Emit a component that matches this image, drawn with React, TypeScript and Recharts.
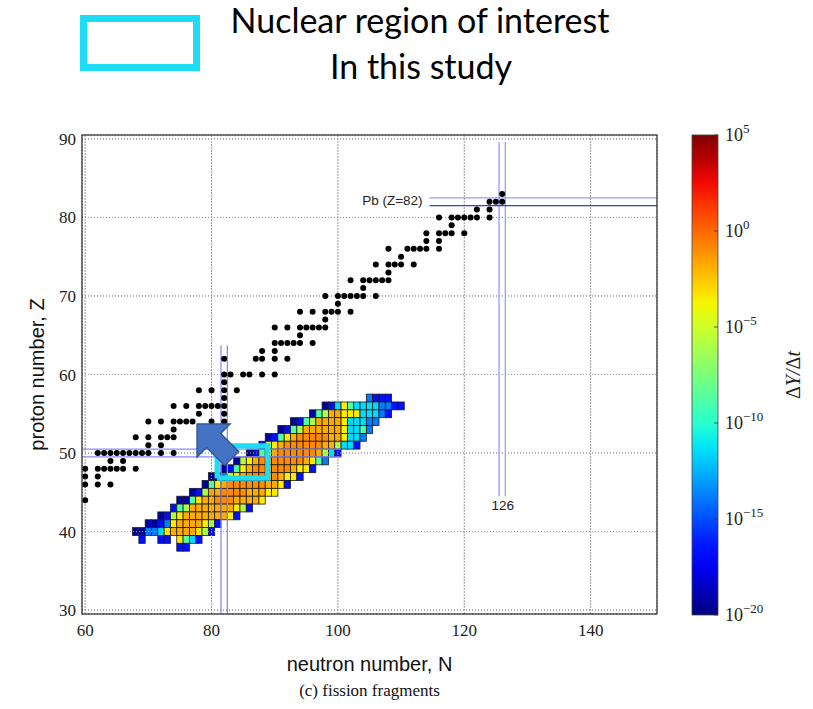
import React from "react";
import { ScatterChart, Scatter, XAxis, YAxis, CartesianGrid } from "recharts";

// axes
const nTicks = [60, 80, 100, 120, 140];
const zTicks = [30, 40, 50, 60, 70, 80, 90];
const nRange: [number, number] = [59.5, 150.5];
const zRange: [number, number] = [29.5, 90.5];

// colour bar, log10(dY/dt)
const barTicks = [5, 0, -5, -10, -15, -20];
const barRange: [number, number] = [-20, 5];

// fission fragment flows: one row per proton number, first neutron number, colour code per cell
const heatZ = [57, 56, 55, 54, 53, 52, 51, 50, 49, 48, 47, 46, 45, 44, 43, 42, 41, 40, 39, 38];
const heatFirstN = [105, 98, 96, 93, 91, 89, 88, 86, 84, 82, 80, 79, 77, 75, 74, 72, 70, 68, 69, 75];
const heatCells = [
  "LBBB",
  "DBCYACCCCLLBB",
  "DAGOOYYYCCCLB",
  "DBAGOOOOYCCCLL",
  "DBAGOOOOOOYCCAL",
  "DBAYORRRRROOYCCL",
  "BGYORRRRRROOGCCB",
  "DBAGORRRRRROGCB",
  "DGYORRRRRRROYAL",
  "DBAYORRRRRROYYB",
  "DBLGYORRRRROYYB",
  "DAYORRRRRROOYB",
  "DBGOORRRROOOYY",
  "DDAYOORRROOOOY",
  "BAGOOOOOOOYGB",
  "DBGYOOOOOOOYB",
  "DDBLYOOOOYGB",
  "DDLLCYOOOOYGB",
  "B..BB.YACB",
  "BB",
];
// log10 value for each colour code
const cellLevel: Record<string, number> = {
  D: -19.3, B: -16.5, L: -13.8, C: -11.5, A: -8.8, G: -6, Y: -3.5, O: -1.8, R: -0.9,
};

// black dots (N per proton row)
const dotZ = [44, 46, 47, 48, 49, 50, 51, 52, 53, 54, 55, 56, 57, 58, 59, 60, 62, 63, 64, 65, 66, 67, 68, 69, 70, 71, 72, 73, 74, 75, 76, 77, 78, 79, 80, 81, 82, 83];
const dotN = [
  [60], [60, 62, 64], [60, 62], [60, 62, 63, 64, 65, 66, 68], [64, 66],
  [62, 63, 64, 65, 66, 67, 68, 69, 70, 72, 74], [70, 72], [68, 70, 72, 73, 74], [74],
  [70, 72, 74, 75, 76, 77, 80, 82], [78, 82], [74, 76, 78, 79, 80, 81, 82], [82],
  [78, 80, 82, 84], [82], [82, 83, 85, 86, 88, 90], [82, 87, 88, 90, 92], [88, 90],
  [90, 91, 92, 93, 94, 96], [94], [90, 92, 94, 95, 96, 97, 98], [98],
  [94, 96, 98, 99, 100, 102], [100], [98, 100, 101, 102, 103, 104, 106], [104],
  [102, 104, 105, 106, 107, 108], [108], [106, 108, 109, 110, 112], [110],
  [108, 111, 112, 113, 114, 116], [114, 116], [114, 116, 117, 118, 120], [118],
  [116, 118, 119, 120, 121, 122, 124], [122, 124], [124, 125, 126], [126],
];

// magic number guide lines (N range, Z range, colour)
const magicLines = [
  { n: [81.5, 81.5], z: [29.5, 63.7], color: "#8a8aff" },
  { n: [82.5, 82.5], z: [29.5, 63.7], color: "#8a8aff" },
  { n: [59.5, 100.5], z: [50.5, 50.5], color: "#8a8aff" },
  { n: [59.5, 100.5], z: [49.5, 49.5], color: "#8a8aff" },
  { n: [125.5, 125.5], z: [44.5, 89.6], color: "#9a9aff" },
  { n: [126.5, 126.5], z: [44.5, 89.6], color: "#9a9aff" },
  { n: [114.5, 150.5], z: [82.5, 82.5], color: "#9a9aff" },
  { n: [114.5, 150.5], z: [81.5, 81.5], color: "#3535ff" },
];

const roiN = [80.9, 88.9];
const roiZ = [46.8, 50.9];
const arrowTip = { x: 77.7, y: 53.7 };
const pbLabel = { x: 113.4, y: 82.1, text: "Pb (Z=82)" };
const n126Label = { x: 126.1, y: 43.35, text: "126" };

const W = 813;
const H = 709;
const plot = { left: 82, top: 135, right: 657, bottom: 614 };
const cellW = (plot.right - plot.left) / (nRange[1] - nRange[0]);
const cellH = (plot.bottom - plot.top) / (zRange[1] - zRange[0]);
const bar = { left: 692, right: 718, top: 135, bottom: 615 };
const cyan = "#1ddcf6";

const jetR = [[0, 0], [0.35, 0], [0.66, 1], [0.89, 1], [1, 0.5]];
const jetG = [[0, 0], [0.125, 0], [0.375, 1], [0.64, 1], [0.91, 0], [1, 0]];
const jetB = [[0, 0.5], [0.11, 1], [0.34, 1], [0.65, 0], [1, 0]];
function seg(pts: number[][], t: number) {
  for (let i = 1; i < pts.length; i++) {
    if (t <= pts[i][0]) {
      const [t0, v0] = pts[i - 1];
      const [t1, v1] = pts[i];
      return v0 + ((t - t0) / (t1 - t0)) * (v1 - v0);
    }
  }
  return pts[pts.length - 1][1];
}
function jet(t: number) {
  const c = Math.max(0, Math.min(1, t));
  const f = (v: number) => Math.round(v * 255);
  return `rgb(${f(seg(jetR, c))},${f(seg(jetG, c))},${f(seg(jetB, c))})`;
}
const logColor = (v: number) => jet((v - barRange[0]) / (barRange[1] - barRange[0]));

const heatData = heatZ.flatMap((z, i) =>
  heatCells[i].split("").flatMap((code, k) =>
    code === "." ? [] : [{ x: heatFirstN[i] + k, y: z, v: cellLevel[code] }]
  )
);
const dotData = dotZ.flatMap((z, i) => dotN[i].map((n) => ({ x: n, y: z })));
const roiData = [
  { x: roiN[0], y: roiZ[0] }, { x: roiN[1], y: roiZ[0] }, { x: roiN[1], y: roiZ[1] },
  { x: roiN[0], y: roiZ[1] }, { x: roiN[0], y: roiZ[0] },
];
// dotted grid repeated above the cells, as in the original
const gridOnTop = [
  ...nTicks.map((n) => [{ x: n, y: zRange[0] }, { x: n, y: zRange[1] }]),
  ...zTicks.map((z) => [{ x: nRange[0], y: z }, { x: nRange[1], y: z }]),
];

const HeatCell = (p: any) => (
  <rect x={p.cx - cellW / 2} y={p.cy - cellH / 2} width={cellW} height={cellH}
    fill={logColor(p.payload.v)} stroke="#1a1a1a" strokeWidth={0.8} />
);
const Dot = (p: any) => <circle cx={p.cx} cy={p.cy} r={3} fill="#000" />;
const NoShape = () => <g />;

const Arrow = (p: any) => {
  const head = 23.5, headHalf = 23.5, shaftHalf = 10, len = 49;
  const local = [[0, 0], [head, headHalf], [head, shaftHalf], [len, shaftHalf], [len, -shaftHalf], [head, -shaftHalf], [head, -headHalf]];
  const c = Math.SQRT1_2;
  const pts = local.map(([u, v]) => `${p.cx + u * c + v * c},${p.cy + u * c - v * c}`).join(" ");
  return <polygon points={pts} fill="#4472c4" stroke="#2f528f" strokeWidth={1.3} />;
};

const textShape = (anchor: "end" | "middle", text: string) => (p: any) => (
  <text x={p.cx} y={p.cy} textAnchor={anchor} dominantBaseline="central"
    fontFamily="Liberation Sans, Arial, sans-serif" fontSize={13.5} fill="#222">{text}</text>
);

const gradStops = Array.from({ length: 21 }, (_, i) => i / 20);

export default function App() {
  const tickStyle = { fontSize: 17, fill: "#222", fontFamily: "Liberation Serif, serif" };
  return (
    <div style={{ position: "absolute", left: 0, top: 0, width: W, height: H, background: "#fff" }}>
      <ScatterChart width={W} height={H}
        margin={{ top: plot.top, right: W - plot.right, bottom: H - plot.bottom - 30, left: plot.left - 40 }}>
        <CartesianGrid strokeDasharray="1 2" stroke="#9a9a9a" />
        <XAxis type="number" dataKey="x" domain={nRange} ticks={nTicks} allowDataOverflow
          axisLine={false} tickLine={false} tickSize={0} tickMargin={10} height={30} tick={tickStyle} />
        <YAxis type="number" dataKey="y" domain={zRange} ticks={zTicks} allowDataOverflow
          axisLine={false} tickLine={false} tickSize={0} tickMargin={6} width={40} tick={tickStyle} />
        <Scatter data={heatData} shape={HeatCell} isAnimationActive={false} />
        {gridOnTop.map((g, i) => (
          <Scatter key={`g${i}`} data={g} line={{ stroke: "#9a9a9a", strokeWidth: 1, strokeDasharray: "1 2" }}
            shape={NoShape} isAnimationActive={false} />
        ))}
        {magicLines.map((m, i) => (
          <Scatter key={i} data={[{ x: m.n[0], y: m.z[0] }, { x: m.n[1], y: m.z[1] }]}
            line={{ stroke: m.color, strokeWidth: 1.3 }} shape={NoShape} isAnimationActive={false} />
        ))}
        <Scatter data={dotData} shape={Dot} isAnimationActive={false} />
        <Scatter data={[pbLabel]} shape={textShape("end", pbLabel.text)} isAnimationActive={false} />
        <Scatter data={[n126Label]} shape={textShape("middle", n126Label.text)} isAnimationActive={false} />
        <Scatter data={roiData} line={{ stroke: cyan, strokeWidth: 5.3, strokeLinejoin: "miter" }}
          shape={NoShape} isAnimationActive={false} />
        <Scatter data={[arrowTip]} shape={Arrow} isAnimationActive={false} />
      </ScatterChart>

      <svg width={W} height={H} style={{ position: "absolute", left: 0, top: 0, pointerEvents: "none" }}>
        <defs>
          <linearGradient id="jetbar" x1="0" y1="1" x2="0" y2="0">
            {gradStops.map((t) => (
              <stop key={t} offset={t} stopColor={jet(t)} />
            ))}
          </linearGradient>
        </defs>
        {/* legend */}
        <rect x={83.5} y={18.5} width={113} height={49} fill="none" stroke={cyan} strokeWidth={7} />
        <text x={420} y={33} textAnchor="middle" fontFamily="Lato, sans-serif" fontSize={34} fill="#000">
          Nuclear region of interest
        </text>
        <text x={421} y={79} textAnchor="middle" fontFamily="Lato, sans-serif" fontSize={34} fill="#000">
          In this study
        </text>
        {/* plot frame */}
        <rect x={plot.left} y={plot.top} width={plot.right - plot.left} height={plot.bottom - plot.top}
          fill="none" stroke="#333" strokeWidth={1.3} />
        <text x={(plot.left + plot.right) / 2} y={671} textAnchor="middle"
          fontFamily="Liberation Sans, Arial, sans-serif" fontSize={20} fill="#111">neutron number, N</text>
        <text transform={`translate(44 ${(plot.top + plot.bottom) / 2}) rotate(-90)`} textAnchor="middle"
          fontFamily="Liberation Sans, Arial, sans-serif" fontSize={20} fill="#111">proton number, Z</text>
        <text x={(plot.left + plot.right) / 2} y={696} textAnchor="middle"
          fontFamily="Liberation Serif, serif" fontSize={17} fill="#111">(c) fission fragments</text>
        {/* colour bar */}
        <rect x={bar.left} y={bar.top} width={bar.right - bar.left} height={bar.bottom - bar.top}
          fill="url(#jetbar)" stroke="#444" strokeWidth={0.8} />
        {barTicks.map((v) => {
          const y = bar.top + ((barRange[1] - v) / (barRange[1] - barRange[0])) * (bar.bottom - bar.top);
          return (
            <g key={v}>
              <line x1={bar.right - 4} x2={bar.right} y1={y} y2={y} stroke="#333" strokeWidth={0.8} />
              <text x={725} y={y + 6} fontFamily="Liberation Serif, serif" fontSize={18} fill="#222">
                10<tspan dy={-8} fontSize={13}>{v < 0 ? `\u2212${-v}` : `${v}`}</tspan>
              </text>
            </g>
          );
        })}
        <text transform={`translate(800 ${(bar.top + bar.bottom) / 2}) rotate(-90)`} textAnchor="middle"
          fontFamily="Liberation Serif, serif" fontStyle="italic" fontSize={20} fill="#222">
          <tspan fontStyle="normal">Δ</tspan>Y/<tspan fontStyle="normal">Δ</tspan>t
        </text>
      </svg>
    </div>
  );
}
